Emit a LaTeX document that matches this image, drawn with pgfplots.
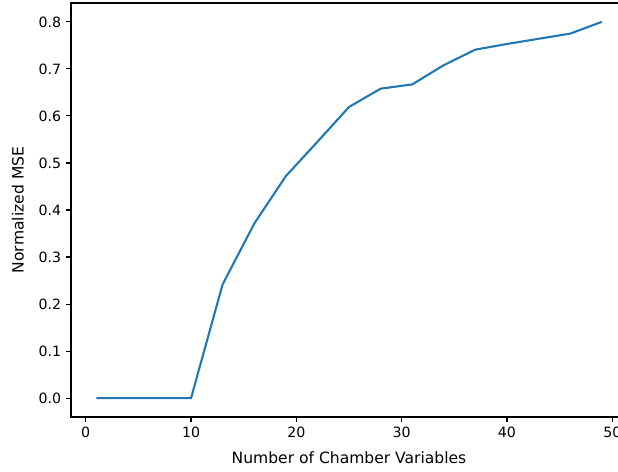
\documentclass[border=0pt]{standalone}
\usepackage{pgfplots}
\pgfplotsset{compat=1.18}
\usepackage{fontspec}
\setmainfont{DejaVu Sans}
\usetikzlibrary{calc}
\definecolor{mplblue}{HTML}{1F77B4}
\begin{document}
\begin{tikzpicture}
\begin{axis}[
  name=ax,
  scale only axis,
  width=400.3pt, height=298pt,
  xmin=-1.4, xmax=51.4,
  ymin=-0.04, ymax=0.84,
  xtick={0,10,20,30,40,50},
  ytick={0,0.1,0.2,0.3,0.4,0.5,0.6,0.7,0.8},
  yticklabel style={/pgf/number format/.cd,fixed,fixed zerofill,precision=1},
  /pgf/number format/assume math mode=true,
  tick align=outside,
  xtick pos=bottom, ytick pos=left,
  major tick length=3.5pt,
  every tick/.style={black, line width=0.8pt},
  axis line style={line width=0.8pt, black},
  tick label style={font=\fontsize{10.2}{12}\selectfont},
  label style={font=\fontsize{11.2}{13}\selectfont},
  xlabel={Number of Chamber Variables},
  ylabel={Normalized MSE},
  xlabel style={at={([yshift=-29.5pt]axis description cs:0.5,0)}, anchor=center},
  ylabel style={at={([xshift=-38.2pt]axis description cs:0,0.5)}, anchor=center},
]
\addplot[mplblue, line width=1.5pt] coordinates {
(1,0) (4,0) (7,0) (10,0) (13,0.242) (16,0.371) (19,0.472) (22,0.545) (25,0.619)
(28,0.658) (31,0.667) (34,0.708) (37,0.741) (40,0.753) (43,0.764) (46,0.775) (49,0.800)
};
\end{axis}
\pgfresetboundingbox
\useasboundingbox ($(ax.south west)+(-51.1pt,-38.9pt)$) rectangle ($(ax.north west)+(393.8pt,2.2pt)$);
\end{tikzpicture}
\end{document}
